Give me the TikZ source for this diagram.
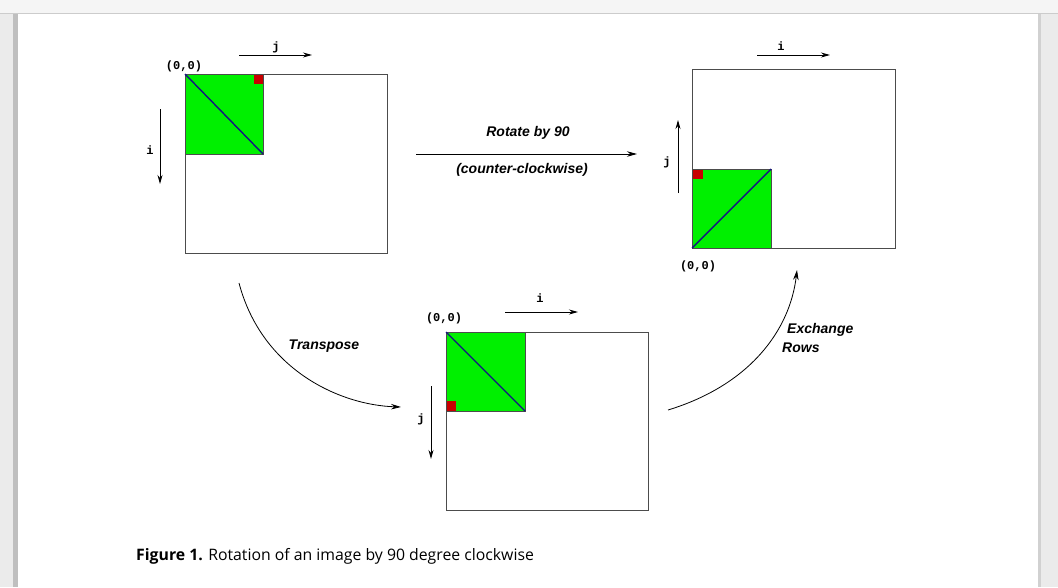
\documentclass[tikz,border=0pt]{standalone}
\usepackage{fontspec}
\setmainfont{Liberation Sans}
\newfontfamily\capfont{Open Sans}
\newfontfamily\monofont{Liberation Mono}
\usetikzlibrary{arrows.meta}
\definecolor{grn}{RGB}{0,240,0}
\definecolor{rd}{RGB}{200,0,0}
\definecolor{dblue}{RGB}{20,20,130}
\begin{document}
\begin{tikzpicture}[x=1pt,y=-1pt,
  box/.style={draw=black!70,line width=0.9pt},
  sq/.style={fill=grn,draw=black!70,line width=0.8pt},
  diag/.style={draw=dblue,line width=1.4pt},
  ax/.style={-{Stealth[length=9pt,width=5pt]},line width=0.9pt},
  cv/.style={-{Stealth[length=10pt,width=5.5pt]},line width=0.8pt},
  mono/.style={font=\monofont\bfseries\fontsize{12}{12}\selectfont,inner sep=0pt},
  lab/.style={font=\bfseries\itshape\fontsize{14}{19}\selectfont,inner sep=0pt}]
\useasboundingbox (0,0) rectangle (1058,587);
\fill[black!8] (0,0) rectangle (1058,587);
\fill[black!4] (0,0) rectangle (1058,13);
\draw[black!20] (0,13.5) -- (1058,13.5);
\fill[black!25] (13,14) rectangle (18,587);
\fill[white] (18,14) rectangle (1038,587);
\fill[black!18] (1038,14) rectangle (1041,587);
% box 1
\draw[box] (185,74) rectangle (387,253);
\draw[sq] (185,74) rectangle (263,154);
\fill[rd] (254,75) rectangle (263,84);
\draw[diag] (185,74) -- (263,154);
\coordinate (a1s) at (239,55); \coordinate (a1e) at (312,55);
\draw[ax] (a1s) -- (a1e);
\node[mono] (j1) at (276,47) {j};
\node[mono] (o1) at (184,66) {(0,0)};
\coordinate (b1s) at (160,109); \coordinate (b1e) at (160,184);
\draw[ax] (b1s) -- (b1e);
\node[mono] (i1) at (150,150) {i};
% box 2
\draw[box] (692,69) rectangle (895,248);
\draw[sq] (692,169) rectangle (771,248);
\fill[rd] (692.5,169.5) rectangle (703,179);
\draw[diag] (692,248) -- (771,169);
\coordinate (a2s) at (757,55); \coordinate (a2e) at (830,55);
\draw[ax] (a2s) -- (a2e);
\node[mono] (i2) at (781,46) {i};
\coordinate (b2s) at (678,193); \coordinate (b2e) at (678,120);
\draw[ax] (b2s) -- (b2e);
\node[mono] (j2) at (667,162) {j};
\node[mono] (o2) at (698,266) {(0,0)};
% box 3
\draw[box] (446,332) rectangle (648,510);
\draw[sq] (446,332) rectangle (525,411);
\fill[rd] (446.5,401) rectangle (456,410.5);
\draw[diag] (446,332) -- (525,411);
\coordinate (a3s) at (505,312); \coordinate (a3e) at (578,312);
\draw[ax] (a3s) -- (a3e);
\node[mono] (i3) at (540,298) {i};
\node[mono] (o3) at (444,318) {(0,0)};
\coordinate (b3s) at (431,386); \coordinate (b3e) at (431,459);
\draw[ax] (b3s) -- (b3e);
\node[mono] (j3) at (421,419) {j};
% rotate
\coordinate (rs) at (416,154); \coordinate (re) at (637,154);
\draw[cv] (rs) -- (re);
\node[lab] (rt) at (528,133) {Rotate by 90};
\node[lab] (cc) at (522,170) {(counter-clockwise)};
% transpose
\coordinate (ts) at (239,283); \coordinate (te) at (401,407);
\draw[cv] (ts) .. controls (262,370) and (340,405) .. (te);
\node[lab] (tl) at (324,346) {Transpose};
% exchange
\coordinate (es) at (668,410); \coordinate (ee) at (797,270);
\draw[cv] (es) .. controls (750,385) and (790,330) .. (ee);
\node[lab,align=left,anchor=north west] (el) at (782,323) {\hspace*{5pt}Exchange\\Rows};
% caption
\node[font=\capfont\fontsize{15.8}{17}\selectfont,anchor=west,inner sep=0pt] (cap) at (136,556) {\textbf{Figure 1.} Rotation of an image by 90 degree clockwise};
\end{tikzpicture}
\end{document}
